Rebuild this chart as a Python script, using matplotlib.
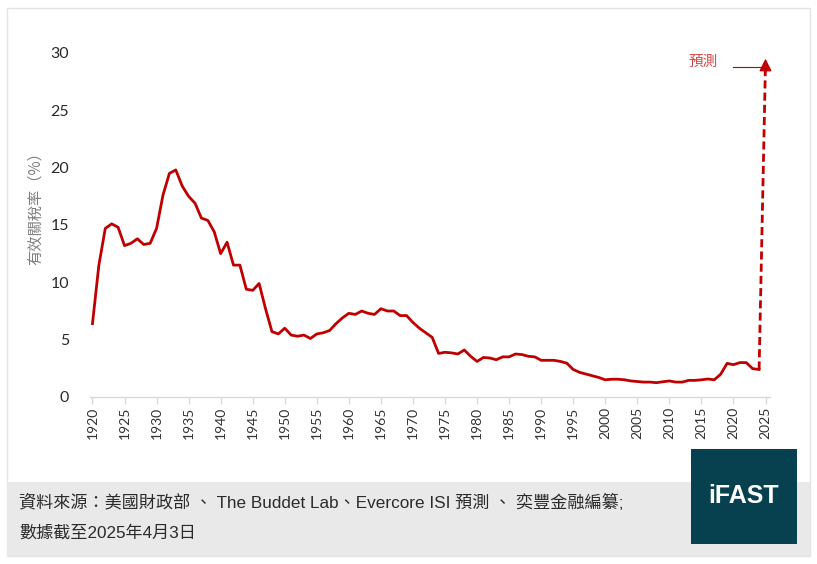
import matplotlib
matplotlib.use("Agg")
import matplotlib.pyplot as plt
from matplotlib.patches import Rectangle
from matplotlib.lines import Line2D

# ---------------- data ----------------
years = list(range(1920, 2025))
tariff_rate = [
    6.4, 11.5, 14.7, 15.1, 14.8, 13.2, 13.4, 13.8, 13.3, 13.4,   # 1920s
    14.7, 17.6, 19.5, 19.8, 18.4, 17.5, 16.9, 15.6, 15.4, 14.4,  # 1930s
    12.5, 13.5, 11.5, 11.5, 9.4, 9.3, 9.9, 7.7, 5.7, 5.5,        # 1940s
    6.0, 5.4, 5.3, 5.4, 5.1, 5.5, 5.6, 5.8, 6.4, 6.9,            # 1950s
    7.3, 7.2, 7.5, 7.3, 7.2, 7.7, 7.5, 7.5, 7.1, 7.1,            # 1960s
    6.5, 6.0, 5.6, 5.2, 3.8, 3.9, 3.85, 3.75, 4.1, 3.55,         # 1970s
    3.1, 3.45, 3.4, 3.25, 3.5, 3.5, 3.75, 3.7, 3.55, 3.5,        # 1980s
    3.2, 3.2, 3.2, 3.1, 2.95, 2.4, 2.15, 2.0, 1.85, 1.7,         # 1990s
    1.5, 1.55, 1.55, 1.5, 1.4, 1.35, 1.3, 1.3, 1.25, 1.33,       # 2000s
    1.4, 1.3, 1.3, 1.45, 1.45, 1.5, 1.57, 1.5, 1.98, 2.93,       # 2010s
    2.82, 3.0, 3.0, 2.47, 2.4,                                   # 2020-2024
]
forecast_years = [2024, 2025]
forecast_values = [2.4, 29.2]

xtick_years = list(range(1920, 2026, 5))
ytick_values = [0, 5, 10, 15, 20, 25, 30]

ylabel_text = "有效關稅率（%）"
forecast_label = "預測"
source_line1 = "資料來源：美國財政部 、 The Buddet Lab、Evercore ISI 預測 、 奕豐金融編纂;"
source_line2 = "數據截至2025年4月3日"
logo_text = "iFAST"

# ---------------- style ----------------
W, H = 817, 564
RED = "#C00000"
CJK = ["Noto Sans CJK TC", "DejaVu Sans"]
MIXED = ["Liberation Sans", "Noto Sans CJK TC"]

def fx(px):
    return px / W

def fy(py):
    return 1 - py / H

fig = plt.figure(figsize=(W / 100, H / 100), dpi=100)
fig.patch.set_facecolor("white")

# outer frame and bottom band
fig.patches.append(Rectangle((fx(7), fy(556)), fx(810) - fx(7), fy(8) - fy(556),
                             transform=fig.transFigure, facecolor="white",
                             edgecolor="#e3e3e3", lw=1.0, zorder=-3))
fig.patches.append(Rectangle((fx(7), fy(556)), fx(810) - fx(7), fy(482) - fy(556),
                             transform=fig.transFigure, facecolor="#e9e9e9",
                             edgecolor="none", zorder=-2))
fig.patches.append(Rectangle((fx(691), fy(544)), fx(797) - fx(691), fy(449) - fy(544),
                             transform=fig.transFigure, facecolor="#07404f",
                             edgecolor="none", zorder=-1))

# axes
left_px, right_px, top_px, bot_px = 89.9, 770.0, 53.0, 397.0
ax = fig.add_axes([fx(left_px), fy(bot_px), fx(right_px) - fx(left_px), fy(top_px) - fy(bot_px)])
ax.set_facecolor("none")
ax.set_xlim(1919.6, 2025.7)
ax.set_ylim(0, 30)

ax.plot(years, tariff_rate, color=RED, lw=2.0, solid_joinstyle="round", zorder=3)
ax.plot(forecast_years, forecast_values, color=RED, lw=2.0,
        linestyle=(0, (2.9, 1.5)), zorder=3)
ax.annotate("", xy=(forecast_years[-1], forecast_values[-1] + 0.3),
            xytext=(forecast_years[-1] - 0.005, forecast_values[-1] - 1.0),
            arrowprops=dict(arrowstyle="-|>,head_length=0.75,head_width=0.38",
                            color=RED, lw=1.0, shrinkA=0, shrinkB=0),
            zorder=4)

for s in ("left", "top", "right"):
    ax.spines[s].set_visible(False)
ax.spines["bottom"].set_color("#d9d9d9")
ax.spines["bottom"].set_linewidth(1.0)

ax.set_xticks(xtick_years)
ax.set_xticklabels([str(y) for y in xtick_years], rotation=90,
                   fontsize=10, family="Lato", color="#333333")
ax.tick_params(axis="x", length=5, width=1, color="#d9d9d9", pad=2)
ax.set_yticks(ytick_values)
ax.set_yticklabels([str(v) for v in ytick_values], fontsize=11.5, family="Lato",
                   color="#2b2b2b")
ax.tick_params(axis="y", length=0, pad=15)

# y label
fig.text(fx(35), fy(205), ylabel_text, rotation=90, ha="center", va="center",
         fontsize=11, color="#7f7f7f", family=CJK)

# forecast label with pointer line
fig.text(fx(703.5), fy(62), forecast_label, ha="center", va="center",
         fontsize=10.5, color="#d04545", family=CJK)
fig.lines.append(Line2D([fx(733), fx(762)], [fy(67.3), fy(67.3)],
                        transform=fig.transFigure, color=RED, lw=0.8))

# source text
fig.text(fx(19), fy(502), source_line1, ha="left", va="center",
         fontsize=12.3, color="#2b2b2b", family=MIXED)
fig.text(fx(19), fy(533), source_line2, ha="left", va="center",
         fontsize=12.3, color="#2b2b2b", family=MIXED)

# logo
fig.text(fx(744), fy(496), logo_text, ha="center", va="center", fontsize=18,
         fontweight="bold", color="white", family="Liberation Sans")

fig.savefig("out.png", dpi=100)
